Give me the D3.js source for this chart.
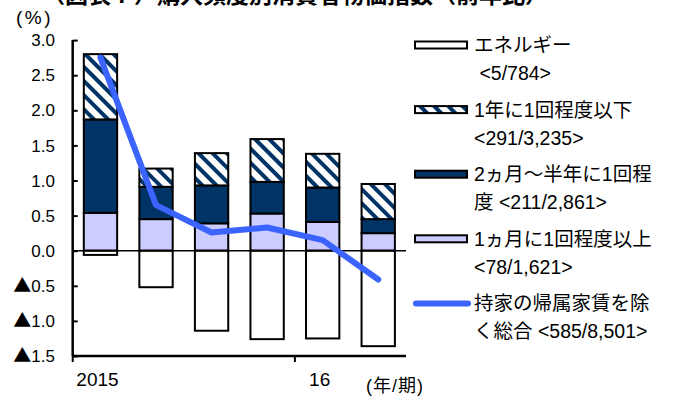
<!DOCTYPE html>
<html>
<head>
<meta charset="utf-8">
<script src="https://cdn.jsdelivr.net/npm/d3@7"></script>
<style>
  html, body { margin: 0; padding: 0; background: #fff; }
  svg { display: block; }
  text { font-family: "Liberation Sans", "Noto Sans CJK JP", sans-serif; fill: #000; }
  .cjk { font-family: "Noto Sans CJK JP", sans-serif; }
</style>
</head>
<body>
<svg id="chart" width="682" height="397"></svg>
<script>
// Quarterly periods (2015 Q1 .. 2016 Q2)
const periods = ["2015-1", "2015-2", "2015-3", "2015-4", "2016-1", "2016-2"];

// Contributions by purchase frequency (% points, y/y)
const energy   = [-0.06, -0.52, -1.14, -1.26, -1.25, -1.36];
const monthly  = [0.54, 0.45, 0.39, 0.53, 0.41, 0.25];
const biMonthToHalfYear = [1.33, 0.46, 0.54, 0.45, 0.49, 0.20];
const yearlyOrLess = [0.93, 0.26, 0.46, 0.61, 0.48, 0.50];

// All items less imputed rent (% y/y)
const total = [2.75, 0.65, 0.26, 0.33, 0.15, -0.41];

// Axis ticks
const yTicks = [3.0, 2.5, 2.0, 1.5, 1.0, 0.5, 0.0, -0.5, -1.0, -1.5];
const yearTickPeriods = ["2015-1", "2016-1"];
const yearTickLabels = ["2015", "16"];

const svg = d3.select("#chart");

const x = d3.scaleBand()
  .domain(periods)
  .range([72.7, 406])
  .paddingInner(0.4)
  .paddingOuter(0.2);

const y = d3.scaleLinear()
  .domain([-1.5, 3.0])
  .range([356, 40.1]);

const NAVY = "#003366";
const LAVENDER = "#ccccff";
const BLUE = "#3b64ff";

// hatched fill: navy diagonal stripes on white
const defs = svg.append("defs");
const pat = defs.append("pattern")
  .attr("id", "hatch")
  .attr("patternUnits", "userSpaceOnUse")
  .attr("width", 10).attr("height", 10)
  .attr("patternTransform", "rotate(-45)");
pat.append("rect").attr("width", 10).attr("height", 10).attr("fill", "#fff");
pat.append("rect").attr("x", 0).attr("width", 4).attr("height", 10).attr("fill", NAVY);

// Title (runs off the top edge)
svg.append("text")
  .attr("class", "cjk")
  .attr("x", 42).attr("y", 3)
  .attr("font-size", 23).attr("font-weight", "bold")
  .text("（図表７）購入頻度別消費者物価指数（前年比）");

// unit labels
svg.append("text").attr("x", 16).attr("y", 24).attr("font-size", 19)
  .attr("letter-spacing", 2.5).text("(%)");
svg.append("text").attr("x", 366).attr("y", 392).attr("font-size", 18)
  .attr("letter-spacing", 1).text("(年/期)");

// Stacked bars
const rows = periods.map((p, i) => ({
  period: p,
  monthly: monthly[i],
  biMonthToHalfYear: biMonthToHalfYear[i],
  yearlyOrLess: yearlyOrLess[i],
  energy: energy[i]
}));
const keys = ["monthly", "biMonthToHalfYear", "yearlyOrLess", "energy"];
const fills = { monthly: LAVENDER, biMonthToHalfYear: NAVY, yearlyOrLess: "url(#hatch)", energy: "#fff" };

const stacked = d3.stack().keys(keys).offset(d3.stackOffsetDiverging)(rows);

svg.append("g").selectAll("g")
  .data(stacked)
  .join("g")
  .attr("fill", d => fills[d.key])
  .selectAll("rect")
  .data(d => d)
  .join("rect")
  .attr("x", d => x(d.data.period))
  .attr("width", x.bandwidth())
  .attr("y", d => y(Math.max(d[0], d[1])))
  .attr("height", d => Math.abs(y(d[0]) - y(d[1])))
  .attr("stroke", "#000")
  .attr("stroke-width", 2);

// zero line
svg.append("line")
  .attr("x1", 72.7).attr("x2", 406)
  .attr("y1", y(0)).attr("y2", y(0))
  .attr("stroke", "#000").attr("stroke-width", 1.5);

// Total line
const line = d3.line()
  .x((d, i) => x(periods[i]) + x.bandwidth() / 2)
  .y(d => y(d));
svg.append("path")
  .datum(total)
  .attr("d", line)
  .attr("fill", "none")
  .attr("stroke", BLUE)
  .attr("stroke-width", 6)
  .attr("stroke-linejoin", "round")
  .attr("stroke-linecap", "round");

// Y axis (inward ticks)
const yAxis = d3.axisRight(y).tickValues(yTicks).tickSize(5).tickFormat("");
const gy = svg.append("g").attr("transform", "translate(72.7,0)").call(yAxis);
gy.select(".domain").attr("stroke-width", 2.5).attr("d", `M0,${y(3.0)}V${y(-1.5)}`);
gy.selectAll(".tick line").attr("stroke-width", 2);

const yLabels = svg.append("g").selectAll("text")
  .data(yTicks)
  .join("text")
  .attr("x", 55).attr("y", d => y(d))
  .attr("dy", "0.36em")
  .attr("text-anchor", "end")
  .attr("font-size", 17);
yLabels.filter(d => d < 0).append("tspan").attr("class", "cjk").attr("font-size", 18).text("▲");
yLabels.append("tspan").text(d => Math.abs(d).toFixed(1));

// X axis: ticks at year starts
const gx = svg.append("g").attr("transform", `translate(0,${y(-1.5)})`);
gx.append("line")
  .attr("x1", 72.7).attr("x2", 406)
  .attr("stroke", "#000").attr("stroke-width", 2.5);
gx.selectAll("line.tick")
  .data(yearTickPeriods)
  .join("line")
  .attr("class", "tick")
  .attr("x1", p => x(p) - x.step() * x.paddingOuter())
  .attr("x2", p => x(p) - x.step() * x.paddingOuter())
  .attr("y1", 0).attr("y2", 6)
  .attr("stroke", "#000").attr("stroke-width", 2);
gx.selectAll("text")
  .data(yearTickPeriods)
  .join("text")
  .attr("x", p => x(p) + x.bandwidth() / 2 - 3)
  .attr("y", 30)
  .attr("text-anchor", "middle")
  .attr("font-size", 19)
  .text((p, i) => yearTickLabels[i]);

// Legend
const legendItems = [
  { type: "rect", fill: "#fff", lines: ["エネルギー", " <5/784>"] },
  { type: "rect", fill: "url(#hatch)", lines: ["1年に1回程度以下", "<291/3,235>"] },
  { type: "rect", fill: NAVY, lines: ["2ヵ月～半年に1回程", "度 <211/2,861>"] },
  { type: "rect", fill: LAVENDER, lines: ["1ヵ月に1回程度以上", "<78/1,621>"] },
  { type: "line", fill: BLUE, lines: ["持家の帰属家賃を除", "く総合 <585/8,501>"] }
];
const lg = svg.append("g");
legendItems.forEach((item, i) => {
  const cy = 45 + i * 64.6;
  if (item.type === "rect") {
    lg.append("rect")
      .attr("x", 415).attr("y", cy - 3.5)
      .attr("width", 52).attr("height", 7)
      .attr("fill", item.fill)
      .attr("stroke", "#000").attr("stroke-width", 2);
  } else {
    lg.append("line")
      .attr("x1", 416).attr("x2", 468)
      .attr("y1", cy).attr("y2", cy)
      .attr("stroke", item.fill).attr("stroke-width", 6)
      .attr("stroke-linecap", "round");
  }
  item.lines.forEach((t, j) => {
    lg.append("text")
      .attr("x", 474).attr("y", cy + j * 28)
      .attr("dy", "0.36em")
      .attr("font-size", 19.5)
      .attr("xml:space", "preserve")
      .text(t);
  });
});
</script>
</body>
</html>
